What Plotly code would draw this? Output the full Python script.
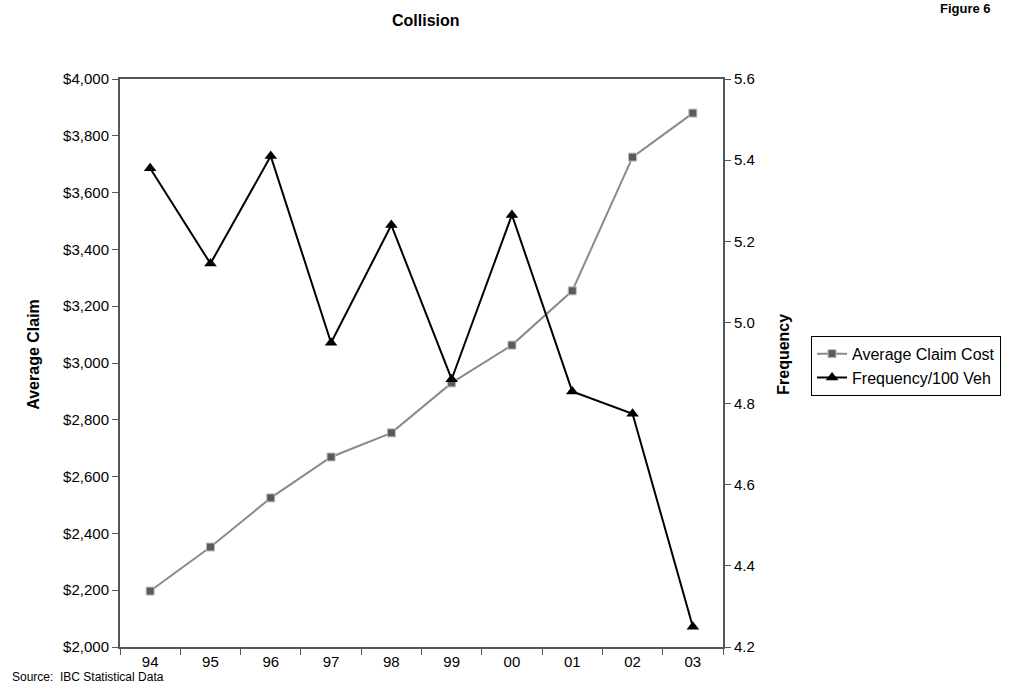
import plotly.graph_objects as go

years = ["94", "95", "96", "97", "98", "99", "00", "01", "02", "03"]
avg_claim_cost = [2197, 2352, 2525, 2669, 2754, 2930, 3063, 3254, 3725, 3880]
frequency = [5.38, 5.145, 5.41, 4.95, 5.24, 4.86, 5.265, 4.83, 4.775, 4.25]

left_ticks = [2000, 2200, 2400, 2600, 2800, 3000, 3200, 3400, 3600, 3800, 4000]
left_tick_text = ["$" + format(v, ",") for v in left_ticks]
right_ticks = [4.2, 4.4, 4.6, 4.8, 5.0, 5.2, 5.4, 5.6]
right_tick_text = [f"{v:.1f}" for v in right_ticks]

FONT = "Liberation Sans, Arial, sans-serif"

fig = go.Figure()
fig.add_trace(go.Scatter(
    x=years, y=avg_claim_cost, name="Average Claim Cost", mode="lines+markers",
    line=dict(color="#8a8a8a", width=2),
    marker=dict(symbol="square", size=8, color="#5a5a5a", line=dict(color="#bdbdbd", width=1)),
    yaxis="y",
))
fig.add_trace(go.Scatter(
    x=years, y=frequency, name="Frequency/100 Veh", mode="lines+markers",
    line=dict(color="black", width=2),
    marker=dict(symbol="triangle-up", size=11, color="black"),
    yaxis="y2",
))

axis_common = dict(showgrid=False, zeroline=False, ticks="outside", ticklen=6,
                   tickcolor="#555555", tickfont=dict(family=FONT, size=15, color="black"))

fig.update_layout(
    width=1016, height=690,
    margin=dict(l=120, r=293, t=79, b=42.5, pad=0),
    paper_bgcolor="white", plot_bgcolor="white",
    font=dict(family=FONT, size=15, color="black"),
    showlegend=True,
    legend=dict(x=1.146, y=0.548, xanchor="left", yanchor="top",
                bordercolor="black", borderwidth=1, bgcolor="white",
                font=dict(family=FONT, size=16), tracegroupgap=0, itemwidth=30),
    xaxis=dict(type="category", tickson="boundaries", showline=True, linecolor="#555555",
               linewidth=2, mirror=True, range=[-0.5, 9.5], **axis_common),
    yaxis=dict(range=[2000, 4000], tickvals=left_ticks, ticktext=left_tick_text,
               showline=True, linecolor="#555555", linewidth=2, **axis_common),
    yaxis2=dict(range=[4.2, 5.6], tickvals=right_ticks, ticktext=right_tick_text,
                overlaying="y", side="right", showline=True, linecolor="#555555",
                linewidth=2, **axis_common),
    annotations=[
        dict(text="<b>Collision</b>", x=426, y=20, font=dict(family=FONT, size=16)),
        dict(text="<b>Figure 6</b>", x=965, y=8, font=dict(family=FONT, size=13)),
        dict(text="<b>Average Claim</b>", x=34, y=355, textangle=-90,
             font=dict(family=FONT, size=16)),
        dict(text="<b>Frequency</b>", x=784, y=355, textangle=-90,
             font=dict(family=FONT, size=16)),
        dict(text="Source:  IBC Statistical Data", x=10, y=678, xanchor="left",
             font=dict(family=FONT, size=12)),
    ],
)

# convert pixel positions in annotations to paper coordinates
pw = 1016 - 120 - 293
ph = 690 - 79 - 42.5
new_ann = []
for a in fig.layout.annotations:
    a.x = (a.x - 120) / pw
    a.y = (690 - 42.5 - a.y) / ph
    a.xref = "paper"
    a.yref = "paper"
    a.showarrow = False
    if a.xanchor is None:
        a.xanchor = "center"
    a.yanchor = "middle"
    new_ann.append(a)
fig.layout.annotations = new_ann

fig.write_html("out.html")
